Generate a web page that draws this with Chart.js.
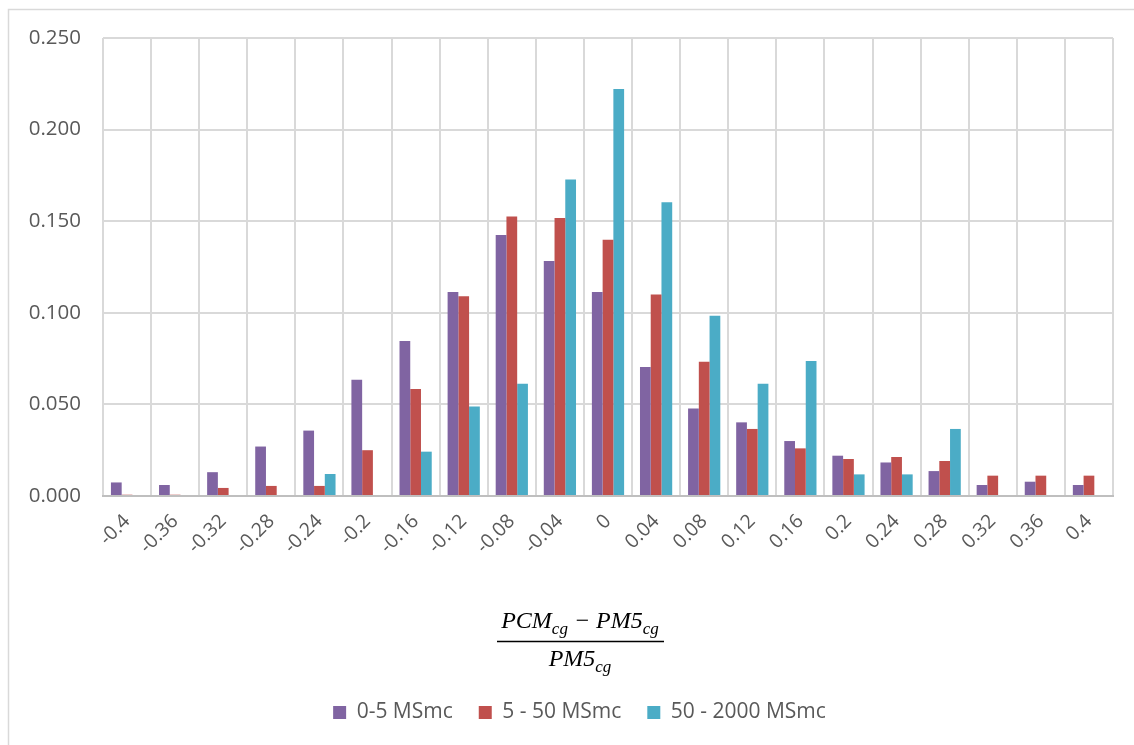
<!DOCTYPE html>
<html>
<head>
<meta charset="utf-8">
<script src="https://cdn.jsdelivr.net/npm/chart.js@4.4.1/dist/chart.umd.min.js"></script>
<style>
  html, body { margin: 0; padding: 0; background: #fff; }
  #wrap { width: 1134px; height: 745px; position: relative; }
</style>
</head>
<body>
<div id="wrap"><canvas id="histChart" width="1134" height="745"></canvas></div>
<script>
// bins of (PCM - PM5) / PM5
const categories = ['-0.4', '-0.36', '-0.32', '-0.28', '-0.24', '-0.2', '-0.16', '-0.12', '-0.08', '-0.04',
  '0', '0.04', '0.08', '0.12', '0.16', '0.2', '0.24', '0.28', '0.32', '0.36', '0.4'];

const seriesNames = ['0-5 MSmc', '5 - 50 MSmc', '50 - 2000 MSmc'];

const small = [0.0074, 0.0060, 0.0130, 0.0270, 0.0357, 0.0634, 0.0846, 0.1113, 0.1425, 0.1283,
  0.1113, 0.0704, 0.0478, 0.0402, 0.0300, 0.0220, 0.0183, 0.0136, 0.0060, 0.0078, 0.0060];
const medium = [0.0007, 0.0007, 0.0044, 0.0055, 0.0055, 0.0250, 0.0584, 0.1090, 0.1526, 0.1517,
  0.1399, 0.1100, 0.0733, 0.0366, 0.0260, 0.0202, 0.0213, 0.0191, 0.0111, 0.0111, 0.0111];
const large = [0, 0, 0, 0, 0.0120, 0, 0.0242, 0.0489, 0.0613, 0.1727,
  0.2222, 0.1603, 0.0984, 0.0613, 0.0737, 0.0118, 0.0118, 0.0366, 0, 0, 0];

const colors = ['#8064A2', '#C0504D', '#4BACC6'];
const textColor = '#595959';
const font = '"Open Sans", "Noto Sans", sans-serif';

// chart frame (top and left edge) + fraction title of the x axis
const decor = {
  id: 'decor',
  afterLayout(chart) {
    // legend sits a bit right of the canvas centre in the original
    chart.legend.left += 23;
    chart.legend.right += 23;
  },
  beforeDraw(chart) {
    const c = chart.ctx;
    c.save();
    c.strokeStyle = '#d9d9d9';
    c.lineWidth = 1.5;
    c.beginPath();
    c.moveTo(8.5, 745);
    c.lineTo(8.5, 9.5);
    c.lineTo(1134, 9.5);
    c.stroke();
    c.restore();
  },
  afterDraw(chart) {
    const c = chart.ctx;
    const cx = 580;
    const big = 'italic 24px "Liberation Serif", serif';
    const sub = 'italic 17px "Liberation Serif", serif';
    function piece(parts) {
      let w = 0;
      parts.forEach(p => { c.font = p.sub ? sub : big; w += c.measureText(p.t).width; });
      return w;
    }
    function write(parts, y) {
      let x = cx - piece(parts) / 2;
      parts.forEach(p => {
        c.font = p.sub ? sub : big;
        c.fillText(p.t, x, p.sub ? y + 6 : y);
        x += c.measureText(p.t).width;
      });
    }
    c.save();
    c.fillStyle = '#000';
    c.textBaseline = 'alphabetic';
    const num = [{t: 'PCM'}, {t: 'cg', sub: true}, {t: ' \u2212 PM5'}, {t: 'cg', sub: true}];
    const den = [{t: 'PM5'}, {t: 'cg', sub: true}];
    write(num, 628);
    write(den, 666);
    c.strokeStyle = '#000';
    c.lineWidth = 1.5;
    c.beginPath();
    c.moveTo(497, 641.5);
    c.lineTo(664, 641.5);
    c.stroke();
    c.restore();
  }
};

new Chart(document.getElementById('histChart'), {
  type: 'bar',
  data: {
    labels: categories,
    datasets: [
      { label: seriesNames[0], data: small, backgroundColor: colors[0] },
      { label: seriesNames[1], data: medium, backgroundColor: colors[1] },
      { label: seriesNames[2], data: large, backgroundColor: colors[2] }
    ]
  },
  options: {
    responsive: false,
    animation: false,
    devicePixelRatio: 1,
    categoryPercentage: 0.67,
    barPercentage: 1.0,
    layout: { padding: { top: 38, right: 21, left: 0, bottom: 12 } },
    plugins: {
      legend: {
        position: 'bottom',
        labels: {
          boxWidth: 13, boxHeight: 13, padding: 26,
          color: textColor,
          font: { family: font, size: 21 }
        }
      },
      tooltip: { enabled: false }
    },
    scales: {
      x: {
        grid: { color: '#d9d9d9', lineWidth: 2, drawTicks: false, offset: true },
        border: { color: '#bfbfbf', width: 2 },
        ticks: {
          color: textColor, font: { family: font, size: 19.5 },
          maxRotation: 45, minRotation: 45, padding: 14, autoSkip: false
        },
        afterFit(scale) { scale.height = 180; }
      },
      y: {
        min: 0, max: 0.25,
        grid: { color: '#d9d9d9', lineWidth: 2, drawTicks: false },
        border: { display: false },
        ticks: {
          stepSize: 0.05, padding: 22,
          color: textColor, font: { family: font, size: 20.5 },
          callback: v => v.toFixed(3)
        },
        afterFit(scale) { scale.width = 103; }
      }
    }
  },
  plugins: [decor]
});
</script>
</body>
</html>
